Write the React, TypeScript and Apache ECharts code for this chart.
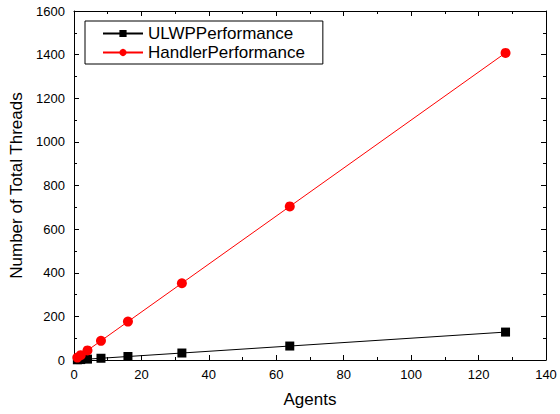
import React, { useEffect, useRef } from "react";
import * as echarts from "echarts";

const agents = [1, 2, 4, 8, 16, 32, 64, 128];
const ulwpValues = [1, 2, 4, 8, 16, 32, 64, 128];
const handlerValues = [11, 22, 44, 88, 176, 352, 704, 1408];
const seriesNames = ["ULWPPerformance", "HandlerPerformance"];

export default function App() {
  const ref = useRef<HTMLDivElement>(null);
  useEffect(() => {
    if (!ref.current) return;
    const chart = echarts.init(ref.current, undefined, { renderer: "svg" });
    const font = "Liberation Sans, Arial, sans-serif";
    const axisCommon = {
      axisLine: { show: true, onZero: false, lineStyle: { color: "#000", width: 1 } },
      axisTick: { show: true, inside: true, length: 5, lineStyle: { color: "#000" } },
      minorTick: { show: true, splitNumber: 2, length: 3, lineStyle: { color: "#000" } },
      splitLine: { show: false },
    };
    const fmt = (v: number) => String(v);
    chart.setOption({
      animation: false,
      backgroundColor: "#fff",
      textStyle: { fontFamily: font },
      grid: { left: 74, right: 14, top: 11, bottom: 54, containLabel: false },
      legend: {
        left: 85,
        top: 21,
        orient: "vertical",
        data: seriesNames,
        itemWidth: 40,
        itemHeight: 9,
        itemGap: 2,
        padding: [4, 18, 3, 17],
        borderColor: "#000",
        borderWidth: 1,
        borderRadius: 0,
        textStyle: { fontSize: 17, color: "#000", fontFamily: font, padding: [0, 0, 0, 0] },
      },
      xAxis: [
        {
          type: "value",
          min: 0,
          max: 140,
          interval: 20,
          name: "Agents",
          nameLocation: "middle",
          nameGap: 31,
          nameTextStyle: { fontSize: 17, color: "#000", fontFamily: font },
          axisLabel: { color: "#000", fontSize: 13, fontFamily: font, margin: 8, formatter: fmt },
          ...axisCommon,
        },
        {
          type: "value",
          position: "top",
          min: 0,
          max: 140,
          interval: 20,
          axisLabel: { show: false },
          ...axisCommon,
        },
      ],
      yAxis: [
        {
          type: "value",
          min: 0,
          max: 1600,
          interval: 200,
          name: "Number of Total Threads",
          nameLocation: "middle",
          nameGap: 48,
          nameTextStyle: { fontSize: 17, color: "#000", fontFamily: font },
          axisLabel: { color: "#000", fontSize: 13, fontFamily: font, margin: 9, formatter: fmt },
          ...axisCommon,
        },
        {
          type: "value",
          position: "right",
          min: 0,
          max: 1600,
          interval: 200,
          axisLabel: { show: false },
          ...axisCommon,
        },
      ],
      series: [
        {
          name: seriesNames[0],
          type: "line",
          data: agents.map((a, i) => [a, ulwpValues[i]]),
          symbol: "rect",
          symbolSize: 9,
          color: "#000",
          lineStyle: { color: "#000", width: 1 },
          itemStyle: { color: "#000" },
        },
        {
          name: seriesNames[1],
          type: "line",
          data: agents.map((a, i) => [a, handlerValues[i]]),
          symbol: "circle",
          symbolSize: 10,
          color: "#ff0000",
          lineStyle: { color: "#ff0000", width: 1 },
          itemStyle: { color: "#ff0000" },
        },
      ],
    });
    return () => chart.dispose();
  }, []);
  return (
    <div
      ref={ref}
      style={{ position: "absolute", left: 0, top: 0, width: 560, height: 414 }}
    />
  );
}
